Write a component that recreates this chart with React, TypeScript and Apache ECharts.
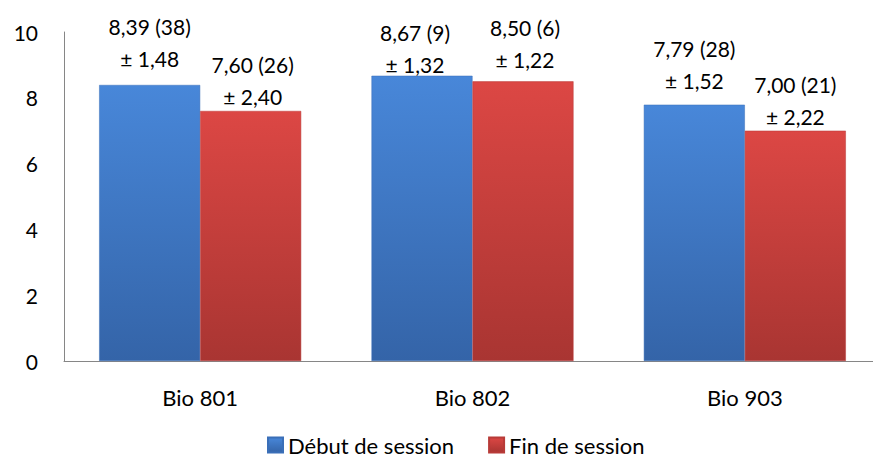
import React, { useEffect, useRef } from "react";
import * as echarts from "echarts";

const categories = ["Bio 801", "Bio 802", "Bio 903"];
const seriesNames = ["Début de session", "Fin de session"];
const debutMeans = [8.39, 8.67, 7.79];
const debutCounts = [38, 9, 28];
const debutSd = [1.48, 1.32, 1.52];
const finMeans = [7.6, 8.5, 7.0];
const finCounts = [26, 6, 21];
const finSd = [2.4, 1.22, 2.22];
const yTicks = [0, 2, 4, 6, 8, 10];

const FONT = "Lato, 'Open Sans', sans-serif";

const fmt = (v: number) => v.toFixed(2).replace(".", ",");

const debutOffsets = [[0, -10], [-7, 5], [0, -8]];
const finOffsets = [[2, 2], [2, -6], [0, 2]];

function buildData(means: number[], counts: number[], sds: number[], offsets: number[][]) {
  return means.map((m, i) => ({
    value: m,
    label: {
      show: true,
      position: "top",
      distance: 0,
      offset: offsets[i],
      formatter: `${fmt(m)} (${counts[i]})\n± ${fmt(sds[i])}`,
    },
  }));
}

export default function App() {
  const ref = useRef<HTMLDivElement>(null);
  useEffect(() => {
    if (!ref.current) return;
    const chart = echarts.init(ref.current, undefined, { renderer: "svg" });
    const blue = new echarts.graphic.LinearGradient(0, 0, 0, 1, [
      { offset: 0, color: "#4887D9" },
      { offset: 1, color: "#3464A8" },
    ]);
    const red = new echarts.graphic.LinearGradient(0, 0, 0, 1, [
      { offset: 0, color: "#DC4744" },
      { offset: 1, color: "#A93532" },
    ]);
    const labelStyle = {
      color: "#000",
      fontFamily: FONT,
      fontSize: 21,
      lineHeight: 32,
      align: "center",
    };
    chart.setOption({
      animation: false,
      backgroundColor: "#fff",
      grid: { left: 64, top: 32, bottom: 101, width: 828 },
      xAxis: {
        type: "category",
        data: categories,
        axisLine: { show: true, lineStyle: { color: "#868686", width: 1 } },
        axisTick: { show: false },
        axisLabel: { color: "#000", fontFamily: FONT, fontSize: 22, margin: 25 },
      },
      yAxis: {
        type: "value",
        min: yTicks[0],
        max: yTicks[yTicks.length - 1],
        interval: 2,
        axisLine: { show: true, lineStyle: { color: "#868686", width: 1 } },
        axisTick: { show: false },
        splitLine: { show: false },
        axisLabel: { color: "#000", fontFamily: FONT, fontSize: 21, margin: 26 },
      },
      legend: {
        bottom: 1,
        left: 262,
        icon: "rect",
        itemWidth: 15,
        itemHeight: 15,
        itemGap: 34,
        textStyle: { color: "#000", fontFamily: FONT, fontSize: 22 },
        data: seriesNames,
      },
      series: [
        {
          name: seriesNames[0],
          type: "bar",
          barWidth: 101,
          barGap: "0%",
          itemStyle: { color: blue, borderColor: "#3A6FB8", borderWidth: 0.5 },
          label: labelStyle,
          data: buildData(debutMeans, debutCounts, debutSd, debutOffsets),
        },
        {
          name: seriesNames[1],
          type: "bar",
          barWidth: 101,
          barGap: "0%",
          itemStyle: { color: red, borderColor: "#B83B38", borderWidth: 0.5 },
          label: labelStyle,
          data: buildData(finMeans, finCounts, finSd, finOffsets),
        },
      ],
    });
    return () => chart.dispose();
  }, []);
  return <div ref={ref} style={{ width: 881, height: 462, margin: -8 }} />;
}
